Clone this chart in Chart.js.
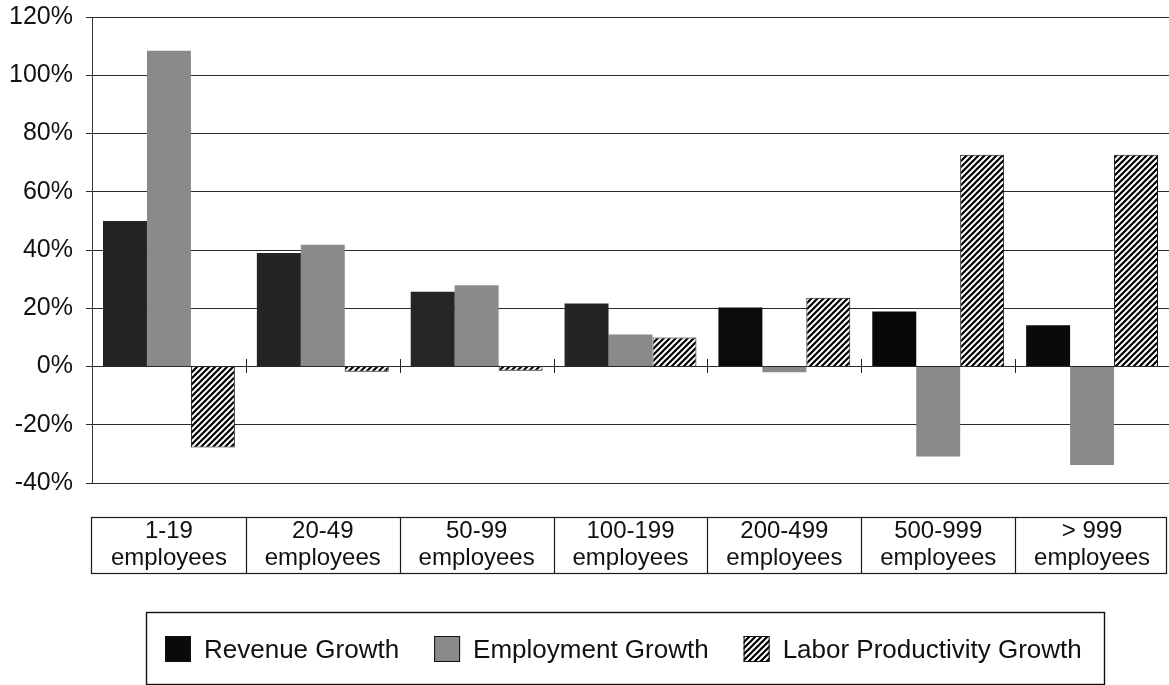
<!DOCTYPE html>
<html>
<head>
<meta charset="utf-8">
<script src="https://cdn.jsdelivr.net/npm/chart.js@4.4.1/dist/chart.umd.min.js"></script>
<style>
  html, body { margin: 0; padding: 0; background: #fff; }
  canvas { display: block; }
</style>
</head>
<body>
<canvas id="growthChart" width="1169" height="685"></canvas>
<script>
// ── DATA ──
const sizeClasses = [
  ['1-19', 'employees'],
  ['20-49', 'employees'],
  ['50-99', 'employees'],
  ['100-199', 'employees'],
  ['200-499', 'employees'],
  ['500-999', 'employees'],
  ['> 999', 'employees'],
];
const revenueGrowth      = [50, 39, 25.7, 21.6, 20.3, 18.9, 14.2];
const employmentGrowth   = [108.4, 41.8, 27.9, 11, -2, -30.9, -33.8];
const productivityGrowth = [-27.8, -1.8, -1.5, 10, 23.6, 72.7, 72.7];
const yTicks = [-40, -20, 0, 20, 40, 60, 80, 100, 120];

const FONT = "'Liberation Sans', Arial, Helvetica, sans-serif";

// ── HATCH PATTERN ──
function makeHatch() {
  const s = 6;
  const c = document.createElement('canvas');
  c.width = s; c.height = s;
  const g = c.getContext('2d');
  g.fillStyle = '#fff';
  g.fillRect(0, 0, s, s);
  g.strokeStyle = '#000';
  g.lineWidth = 2.2;
  g.beginPath();
  g.moveTo(-1, s + 1); g.lineTo(s + 1, -1);
  g.moveTo(-1, 1); g.lineTo(1, -1);
  g.moveTo(s - 1, s + 1); g.lineTo(s + 1, s - 1);
  g.stroke();
  return g.createPattern(c, 'repeat');
}
const hatch = makeHatch();

// ── DECORATION: zero-line ticks, label table, boxed legend ──
const decor = {
  id: 'decor',
  afterDraw(chart) {
    const { ctx, chartArea: a, scales: { x, y } } = chart;
    const step = x.getPixelForValue(1) - x.getPixelForValue(0);
    ctx.save();

    // small ticks at category boundaries on the 0% line
    const y0 = Math.round(y.getPixelForValue(0));
    ctx.strokeStyle = '#222';
    ctx.lineWidth = 1;
    for (let i = 1; i < sizeClasses.length; i++) {
      const bx = Math.round(x.getPixelForValue(i) - step / 2) + 0.5;
      ctx.beginPath();
      ctx.moveTo(bx, y0 - 8);
      ctx.lineTo(bx, y0 + 6);
      ctx.stroke();
    }

    // table around category labels
    const tTop = a.bottom + 34.5, tBot = a.bottom + 90.5;
    ctx.lineWidth = 1.2;
    ctx.strokeStyle = '#1a1a1a';
    const left = Math.round(x.getPixelForValue(0) - step / 2) - 0.5;
    const right = Math.min(chart.width - 2.5, x.getPixelForValue(sizeClasses.length - 1) + step / 2);
    ctx.strokeRect(left, tTop, right - left, tBot - tTop);
    for (let i = 1; i < sizeClasses.length; i++) {
      const bx = Math.round(x.getPixelForValue(i) - step / 2) + 0.5;
      ctx.beginPath();
      ctx.moveTo(bx, tTop);
      ctx.lineTo(bx, tBot);
      ctx.stroke();
    }

    // legend
    const lx = 146.5, ly = 612.5, lw = 958, lh = 72;
    ctx.lineWidth = 1.4;
    ctx.strokeStyle = '#111';
    ctx.strokeRect(lx, ly, lw, lh);

    ctx.font = '26px ' + FONT;
    ctx.textBaseline = 'alphabetic';
    ctx.textAlign = 'left';
    let cx = 165;
    chart.data.datasets.forEach(ds => {
      const fill = Array.isArray(ds.backgroundColor) ? ds.backgroundColor[ds.backgroundColor.length - 1] : ds.backgroundColor;
      ctx.fillStyle = fill;
      ctx.fillRect(cx, 636, 26, 26);
      ctx.strokeStyle = '#111';
      ctx.lineWidth = 1;
      ctx.strokeRect(cx + 0.5, 636.5, 25, 25);
      ctx.fillStyle = '#111';
      ctx.fillText(ds.label, cx + 39, 658);
      cx += 39 + ctx.measureText(ds.label).width + 35;
    });

    ctx.restore();
  }
};

// ── CHART ──
new Chart(document.getElementById('growthChart').getContext('2d'), {
  type: 'bar',
  data: {
    labels: sizeClasses,
    datasets: [
      {
        label: 'Revenue Growth',
        data: revenueGrowth,
        backgroundColor: ['#232323', '#242424', '#262626', '#242424', '#0b0b0b', '#080808', '#0a0a0a'],
        borderWidth: 0,
      },
      {
        label: 'Employment Growth',
        data: employmentGrowth,
        backgroundColor: '#8a8a8a',
        borderWidth: 0,
      },
      {
        label: 'Labor Productivity Growth',
        data: productivityGrowth,
        backgroundColor: hatch,
        borderColor: '#111',
        borderWidth: 1,
      },
    ]
  },
  options: {
    responsive: false,
    animation: false,
    devicePixelRatio: 1,
    layout: { padding: { top: 17, left: 0, right: 0, bottom: 0 } },
    datasets: {
      bar: { categoryPercentage: 0.857, barPercentage: 1.0 }
    },
    scales: {
      x: {
        type: 'category',
        offset: true,
        grid: { display: false, drawTicks: true, tickLength: 35 },
        border: { display: false },
        ticks: {
          autoSkip: false,
          maxRotation: 0,
          padding: 0,
          color: '#111',
          font: { family: FONT, size: 24, lineHeight: 1.11 },
        },
        afterFit: s => { s.height = 202; s.paddingLeft = 0; s.paddingRight = 0; },
      },
      y: {
        min: -40, max: 120,
        afterBuildTicks: s => { s.ticks = yTicks.map(v => ({ value: v })); },
        grid: { color: '#2a2a2a', lineWidth: 1, drawTicks: true, tickLength: 6 },
        border: { display: true, color: '#333', width: 1 },
        ticks: {
          padding: 13,
          color: '#111',
          font: { family: FONT, size: 25 },
          callback: v => v + '%',
        },
        afterFit: s => { s.width = 92; s.paddingTop = 0; s.paddingBottom = 0; },
      }
    },
    plugins: {
      legend: { display: false },
      tooltip: { enabled: false },
    }
  },
  plugins: [decor]
});
</script>
</body>
</html>
